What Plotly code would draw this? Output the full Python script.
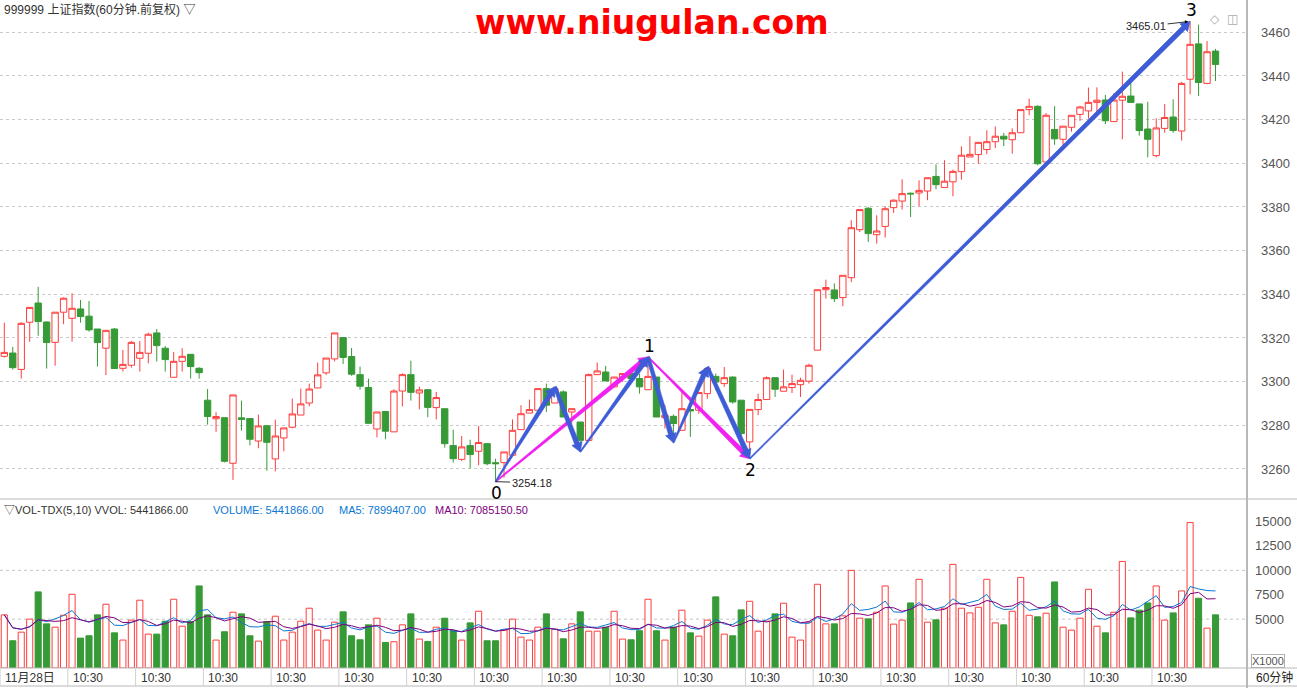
import plotly.graph_objects as go
import pandas as pd
import numpy as np

# ---------------- data ----------------
title_text = "999999 上证指数(60分钟.前复权) ▽"
watermark = "www.niugulan.com"
x_labels = ["11月28日"] + ["10:30"] * 17
label_step = 8

open_ = [3311.6, 3313.1, 3305.6, 3327.2, 3336.0, 3327.3, 3318.0, 3331.8, 3329.0, 3333.3,
         3330.0, 3324.1, 3315.3, 3324.1, 3306.1, 3307.5, 3310.7, 3313.0, 3322.3, 3315.3,
         3302.0, 3309.3, 3312.5, 3306.1, 3291.5, 3283.0, 3283.5, 3262.6, 3283.4, 3283.1,
         3272.8, 3279.8, 3264.6, 3274.2, 3279.1, 3284.7, 3290.2, 3297.1, 3304.0, 3310.4,
         3320.2, 3311.5, 3303.2, 3297.3, 3278.3, 3286.3, 3277.0, 3295.7, 3303.2, 3294.8,
         3296.3, 3288.1, 3287.6, 3270.7, 3264.4, 3270.7, 3268.1, 3271.6, 3262.9, 3262.9,
         3266.3, 3278.0, 3285.6, 3286.9, 3296.8, 3290.2, 3295.3, 3286.1, 3281.5, 3273.1,
         3303.2, 3304.4, 3297.6, 3302.1, 3303.7, 3301.4, 3296.3, 3302.1, 3283.5, 3284.1,
         3277.7, 3287.2, 3286.9, 3294.5, 3302.4, 3299.1, 3302.1, 3291.5, 3272.4, 3287.2,
         3291.8, 3301.8, 3295.6, 3297.3, 3298.6, 3300.2, 3314.4, 3342.1, 3342.0, 3338.5,
         3347.6, 3369.6, 3379.4, 3367.3, 3371.1, 3379.7, 3382.7, 3386.3, 3386.4, 3387.3,
         3394.0, 3388.9, 3391.5, 3396.2, 3402.9, 3404.0, 3406.3, 3409.9, 3412.4, 3410.8,
         3414.0, 3424.6, 3426.1, 3400.6, 3415.5, 3411.0, 3416.5, 3422.4, 3424.0, 3427.9,
         3429.0, 3419.1, 3428.9, 3430.8, 3427.2, 3415.7, 3403.5, 3416.0, 3421.2, 3414.8,
         3438.5, 3454.7, 3436.6, 3451.4]
high = [3327.0, 3315.9, 3327.2, 3334.0, 3343.4, 3327.6, 3331.8, 3338.6, 3340.5, 3337.4,
        3336.9, 3324.1, 3323.5, 3324.6, 3314.5, 3318.6, 3318.6, 3322.4, 3324.1, 3316.3,
        3313.6, 3315.3, 3312.5, 3306.6, 3296.6, 3286.0, 3283.5, 3293.9, 3291.3, 3283.1,
        3284.9, 3279.8, 3282.6, 3278.8, 3292.2, 3296.8, 3299.1, 3308.7, 3310.8, 3322.3,
        3320.2, 3315.4, 3306.9, 3301.4, 3286.1, 3286.3, 3296.5, 3303.8, 3309.6, 3297.7,
        3296.6, 3295.3, 3287.6, 3278.0, 3275.1, 3273.4, 3279.7, 3271.6, 3264.7, 3267.8,
        3282.7, 3289.2, 3291.8, 3296.8, 3299.1, 3297.6, 3296.0, 3287.6, 3281.5, 3303.7,
        3308.7, 3307.2, 3302.1, 3303.7, 3304.4, 3303.7, 3311.3, 3302.1, 3289.2, 3285.0,
        3295.3, 3293.0, 3295.3, 3306.7, 3303.7, 3306.7, 3302.4, 3291.5, 3287.3, 3294.5,
        3302.4, 3301.8, 3305.5, 3303.2, 3301.8, 3308.2, 3342.1, 3346.7, 3345.0, 3348.7,
        3373.9, 3378.8, 3380.0, 3376.2, 3380.3, 3383.5, 3392.7, 3386.6, 3392.2, 3393.4,
        3399.5, 3401.4, 3397.1, 3407.8, 3412.4, 3409.6, 3415.1, 3416.9, 3413.9, 3416.0,
        3424.6, 3429.6, 3426.6, 3423.0, 3426.2, 3417.0, 3422.0, 3426.3, 3434.7, 3434.8,
        3431.3, 3432.1, 3442.0, 3437.4, 3427.2, 3428.2, 3420.6, 3427.2, 3429.3, 3437.3,
        3465.01, 3463.5, 3456.0, 3452.4]
low = [3311.0, 3305.5, 3301.4, 3318.3, 3321.0, 3306.0, 3307.3, 3326.3, 3318.3, 3327.0,
       3322.9, 3306.9, 3303.0, 3306.0, 3304.6, 3306.4, 3304.6, 3308.4, 3309.2, 3304.6,
       3302.0, 3304.6, 3301.4, 3301.4, 3280.3, 3277.0, 3263.0, 3255.0, 3277.6, 3270.8,
       3269.5, 3259.2, 3258.9, 3268.1, 3278.6, 3284.7, 3288.7, 3297.1, 3303.1, 3309.3,
       3308.1, 3302.7, 3296.3, 3280.9, 3274.5, 3273.6, 3277.0, 3288.7, 3291.3, 3287.3,
       3283.7, 3282.7, 3269.8, 3262.9, 3263.7, 3260.2, 3261.7, 3261.7, 3254.18, 3256.0,
       3266.3, 3278.0, 3285.6, 3286.9, 3286.1, 3290.2, 3283.8, 3280.8, 3267.8, 3273.1,
       3303.2, 3300.3, 3297.6, 3299.8, 3300.0, 3294.5, 3296.3, 3283.8, 3278.5, 3272.0,
       3277.7, 3274.7, 3285.3, 3292.2, 3296.0, 3297.6, 3289.9, 3270.4, 3264.7, 3284.6,
       3291.8, 3293.0, 3295.6, 3294.8, 3293.0, 3299.1, 3314.4, 3338.0, 3336.5, 3334.5,
       3345.6, 3368.5, 3364.0, 3363.2, 3366.0, 3377.3, 3378.8, 3375.4, 3380.3, 3383.1,
       3388.1, 3388.9, 3384.9, 3392.5, 3402.9, 3399.8, 3404.1, 3407.0, 3407.9, 3404.4,
       3414.0, 3422.0, 3399.1, 3399.8, 3408.5, 3407.6, 3414.5, 3419.4, 3420.5, 3422.9,
       3418.0, 3419.1, 3411.0, 3427.9, 3412.7, 3402.7, 3402.7, 3414.0, 3414.0, 3410.4,
       3431.6, 3430.8, 3436.2, 3437.7]
close = [3313.4, 3306.4, 3326.7, 3334.0, 3327.5, 3317.9, 3331.8, 3338.2, 3333.6, 3329.8,
         3323.7, 3317.9, 3323.5, 3306.0, 3307.9, 3318.0, 3313.4, 3321.7, 3316.5, 3310.1,
         3309.3, 3311.6, 3306.9, 3304.1, 3284.0, 3284.0, 3263.5, 3293.9, 3282.7, 3273.6,
         3279.7, 3272.2, 3275.1, 3278.8, 3285.2, 3289.8, 3296.6, 3303.1, 3310.8, 3322.3,
         3311.1, 3303.4, 3297.9, 3280.9, 3286.1, 3277.3, 3295.7, 3303.2, 3295.1, 3296.2,
         3288.2, 3292.7, 3271.6, 3264.7, 3270.1, 3266.6, 3272.1, 3262.4, 3262.4, 3267.8,
         3277.7, 3285.3, 3287.2, 3296.8, 3289.2, 3296.8, 3283.8, 3287.6, 3273.1, 3303.2,
         3304.9, 3300.3, 3302.1, 3303.7, 3301.4, 3297.6, 3302.4, 3283.8, 3284.6, 3280.8,
         3287.6, 3286.6, 3295.0, 3306.0, 3299.8, 3301.8, 3290.7, 3276.2, 3287.3, 3291.8,
         3301.8, 3296.5, 3297.6, 3299.1, 3300.6, 3307.5, 3342.1, 3343.1, 3338.0, 3348.7,
         3370.5, 3378.8, 3367.8, 3369.0, 3379.2, 3383.1, 3386.1, 3386.0, 3387.6, 3393.4,
         3390.2, 3391.8, 3396.3, 3403.7, 3404.1, 3409.6, 3409.9, 3412.4, 3411.1, 3414.0,
         3424.6, 3426.1, 3399.8, 3422.0, 3411.2, 3417.0, 3422.0, 3425.8, 3427.9, 3428.9,
         3419.5, 3429.0, 3430.7, 3427.9, 3415.0, 3411.0, 3416.2, 3421.0, 3415.0, 3436.6,
         3454.5, 3437.0, 3451.1, 3445.3]
volume = [5440, 2790, 3670, 5000, 7790, 4520, 4180, 5400, 7550, 3060,
          3300, 5440, 6530, 3600, 2860, 4900, 6940, 3470, 3470, 4790,
          7040, 4280, 4760, 8400, 5440, 2860, 3710, 5710, 5540, 3300,
          2750, 4760, 5300, 2860, 3670, 4790, 6120, 3880, 2860, 4690,
          5750, 3300, 2890, 4420, 5100, 2620, 2690, 4420, 5540, 2960,
          2720, 4180, 5100, 3840, 2860, 4620, 5810, 2790, 2790, 3880,
          5000, 3160, 2860, 4180, 5540, 3980, 2990, 4520, 5750, 3770,
          3770, 4180, 5810, 2960, 2890, 3810, 7040, 3810, 2860, 4180,
          5920, 3600, 3260, 4900, 7280, 3470, 3300, 5950, 6830, 3770,
          4790, 5540, 6630, 3160, 2860, 4690, 8570, 4520, 4520, 5340,
          10000, 5100, 5030, 5710, 8400, 4490, 4900, 6660, 9080, 4690,
          4930, 6120, 10610, 6120, 5640, 6220, 9080, 4620, 4420, 5810,
          9280, 5400, 5240, 5610, 8810, 4180, 3880, 5100, 8060, 4280,
          3600, 5710, 10910, 5130, 5920, 6660, 8400, 4900, 5640, 7890,
          14890, 7140, 4080, 5441.866]

price_ticks = [3260, 3280, 3300, 3320, 3340, 3360, 3380, 3400, 3420, 3440, 3460]
vol_ticks = [5000, 7500, 10000, 12500, 15000]
vol_grid = [5000, 10000]

blue_pivots = [58, 65, 68, 76, 79, 83, 88, 140]
blue_kinds = ["L", "H", "L", "H", "L", "H", "L", "H"]
magenta_pivots = [58, 76, 88]
magenta_kinds = ["L", "H", "L"]
pivot_names = {58: ("0", "L"), 76: ("1", "H"), 88: ("2", "L"), 140: ("3", "H")}

vol_header_parts = [("▽VOL-TDX(5,10) VVOL: 5441866.00", "#333333", 2),
                    ("VOLUME: 5441866.00", "#0a78d2", 211),
                    ("MA5: 7899407.00", "#0a78d2", 337),
                    ("MA10: 7085150.50", "#800080", 433)]

# ---------------- layout constants ----------------
W, H = 1297, 688
ML, MR, MT, MB = 0, 51, 0, 20
PW, PH = W - ML - MR, H - MT - MB
PRICE_BOTTOM_PX = 498
VOL_TOP_PX = 500
X0, X1 = -0.508, 146.6
PT, PB = 3474.8, 3246.7
VT = 17200

RED = "#ff3c3c"
GREEN = "#369a36"
BLUE_ARROW = "#3d5cd6"
MAGENTA = "#f020f0"
FONT = "Liberation Sans, Arial, Noto Sans CJK SC, sans-serif"

n = len(close)
idx = list(range(n))
up = [c >= o for o, c in zip(open_, close)]


def paper_x(px):
    return (px - ML) / PW


def paper_y(py):
    return (MT + PH - py) / PH


def to_px(i, p):
    return (i - X0) / (X1 - X0) * PW, (PT - p) / (PT - PB) * PRICE_BOTTOM_PX


def to_data(x, y):
    return X0 + x / PW * (X1 - X0), PT - y / PRICE_BOTTOM_PX * (PT - PB)


def pivot_price(i, kind):
    return low[i] if kind == "L" else high[i]


def arrow_poly(i0, p0, i1, p1, w0, w1, hl, hw):
    x0, y0 = to_px(i0, p0)
    x1, y1 = to_px(i1, p1)
    d = np.array([x1 - x0, y1 - y0])
    L = np.hypot(*d)
    d = d / L
    nrm = np.array([-d[1], d[0]])
    s = np.array([x0, y0])
    e = np.array([x1, y1])
    b = e - d * hl
    pts = [s + nrm * w0 / 2, b + nrm * w1 / 2, b + nrm * hw, e,
           b - nrm * hw, b - nrm * w1 / 2, s - nrm * w0 / 2, s + nrm * w0 / 2]
    xs, ys = zip(*[to_data(px, py) for px, py in pts])
    return list(xs), list(ys)


fig = go.Figure()

# candles
fig.add_trace(go.Candlestick(
    x=idx, open=open_, high=high, low=low, close=close,
    increasing=dict(line=dict(color=RED, width=1), fillcolor="white"),
    decreasing=dict(line=dict(color=GREEN, width=1), fillcolor=GREEN),
    whiskerwidth=0, xaxis="x", yaxis="y", showlegend=False, hoverinfo="skip"))


def add_arrow_chain(pivots, kinds, color, down_thick):
    for k in range(len(pivots) - 1):
        a, b = pivots[k], pivots[k + 1]
        pa, pb = pivot_price(a, kinds[k]), pivot_price(b, kinds[k + 1])
        going_down = pb < pa
        w0 = 3.4 if (going_down and down_thick) else 1.2
        xs, ys = arrow_poly(a, pa, b, pb, w0, 4.8, 9, 5.5)
        fig.add_trace(go.Scatter(x=xs, y=ys, mode="lines", fill="toself",
                                 fillcolor=color, line=dict(width=0.6, color=color),
                                 xaxis="x", yaxis="y", showlegend=False, hoverinfo="skip"))


add_arrow_chain(magenta_pivots, magenta_kinds, MAGENTA, False)
add_arrow_chain(blue_pivots, blue_kinds, BLUE_ARROW, True)

# volume
vol_s = pd.Series(volume)
ma5 = vol_s.rolling(5, min_periods=1).mean()
ma10 = vol_s.rolling(10, min_periods=1).mean()
fig.add_trace(go.Bar(
    x=idx, y=volume, width=0.72,
    marker=dict(color=["white" if u else GREEN for u in up],
                line=dict(color=[RED if u else GREEN for u in up], width=1)),
    xaxis="x2", yaxis="y2", showlegend=False, hoverinfo="skip"))
fig.add_trace(go.Scatter(x=idx, y=ma5, mode="lines", line=dict(color="#0a78d2", width=1),
                         xaxis="x2", yaxis="y2", showlegend=False, hoverinfo="skip"))
fig.add_trace(go.Scatter(x=idx, y=ma10, mode="lines", line=dict(color="#800080", width=1),
                         xaxis="x2", yaxis="y2", showlegend=False, hoverinfo="skip"))

shapes = []
annotations = []

# volume grid
for v in vol_grid:
    shapes.append(dict(type="line", xref="paper", x0=0, x1=1, yref="y2", y0=v, y1=v,
                       line=dict(color="#c4c4c4", width=1, dash="dot"), layer="below"))

# separators
gray = "#b8b8b8"
for py in [499, 668, 686]:
    shapes.append(dict(type="line", xref="paper", yref="paper", x0=paper_x(0), x1=paper_x(W),
                       y0=paper_y(py), y1=paper_y(py), line=dict(color=gray, width=1)))
shapes.append(dict(type="line", xref="paper", yref="paper", x0=paper_x(1247), x1=paper_x(1247),
                   y0=paper_y(0), y1=paper_y(H), line=dict(color=gray, width=2)))

# x-axis labels
for k, lab in enumerate(x_labels):
    i = k * label_step
    shapes.append(dict(type="line", xref="x2", yref="paper", x0=i - 0.5, x1=i - 0.5,
                       y0=paper_y(668), y1=paper_y(686), line=dict(color="#d0d0d0", width=1)))
    annotations.append(dict(x=i - 0.5, xref="x2", y=paper_y(677.5), yref="paper", text=lab,
                            showarrow=False, xanchor="left", yanchor="middle", xshift=3,
                            font=dict(family=FONT, size=12, color="#333333")))

annotations.append(dict(x=paper_x(1254), y=paper_y(677.5), xref="paper", yref="paper", text="60分钟",
                        showarrow=False, xanchor="left", yanchor="middle",
                        font=dict(family=FONT, size=12, color="#222222")))
annotations.append(dict(x=paper_x(1251), y=paper_y(661), xref="paper", yref="paper", text="X1000",
                        showarrow=False, xanchor="left", yanchor="middle", borderpad=0,
                        bordercolor="#b0b0b0", borderwidth=1,
                        font=dict(family=FONT, size=11, color="#555555")))

# headers
annotations.append(dict(x=paper_x(2), y=paper_y(10), xref="paper", yref="paper", text=title_text,
                        showarrow=False, xanchor="left", yanchor="middle",
                        font=dict(family=FONT, size=12, color="#333333")))
for txt, col, px in vol_header_parts:
    annotations.append(dict(x=paper_x(px), y=paper_y(510), xref="paper", yref="paper", text=txt,
                            showarrow=False, xanchor="left", yanchor="middle",
                            font=dict(family=FONT, size=11, color=col)))
annotations.append(dict(x=paper_x(652), y=paper_y(1), xref="paper", yref="paper",
                        text="<b>" + watermark + "</b>", showarrow=False,
                        xanchor="center", yanchor="top",
                        font=dict(family="DejaVu Sans, sans-serif", size=33, color="#ff0000")))
annotations.append(dict(x=paper_x(1222), y=paper_y(10), xref="paper", yref="paper", text="◇",
                        showarrow=False, font=dict(family="DejaVu Sans", size=12, color="#aaaaaa")))
annotations.append(dict(x=paper_x(1240), y=paper_y(10), xref="paper", yref="paper", text="◫",
                        showarrow=False, font=dict(family="DejaVu Sans", size=12, color="#aaaaaa")))

# pivot labels
for i, (name, kind) in pivot_names.items():
    p = pivot_price(i, kind)
    annotations.append(dict(x=i, y=p, xref="x", yref="y", text=name, showarrow=False,
                            yshift=-11 if kind == "L" else 11, xshift=1,
                            font=dict(family="DejaVu Sans", size=17, color="black")))

# extreme value labels
annotations.append(dict(x=58, y=low[58], xref="x", yref="y", text=f"{low[58]:.2f}",
                        showarrow=True, arrowhead=0, arrowwidth=0.8, arrowcolor="black",
                        ax=36, ay=1, standoff=0,
                        font=dict(family=FONT, size=11, color="#222222")))
annotations.append(dict(x=140, y=high[140], xref="x", yref="y", text=f"{high[140]:.2f}",
                        showarrow=True, arrowhead=2, arrowsize=0.8, arrowwidth=0.8,
                        arrowcolor="black", ax=-44, ay=5, standoff=2,
                        font=dict(family=FONT, size=11, color="#222222")))

fig.update_layout(
    width=W, height=H, autosize=False,
    margin=dict(l=ML, r=MR, t=MT, b=MB),
    paper_bgcolor="white", plot_bgcolor="white",
    boxgap=0.25, boxgroupgap=0,
    barmode="overlay",
    showlegend=False,
    shapes=shapes, annotations=annotations,
    xaxis=dict(domain=[0, 1], range=[X0, X1], anchor="y", showgrid=False, zeroline=False,
               showticklabels=False, rangeslider=dict(visible=False), fixedrange=True),
    xaxis2=dict(domain=[0, 1], range=[X0, X1], anchor="y2", showgrid=False, zeroline=False,
                showticklabels=False, fixedrange=True),
    yaxis=dict(domain=[paper_y(PRICE_BOTTOM_PX), 1], range=[PB, PT], side="right", anchor="x",
               tickvals=price_ticks, showgrid=True, gridcolor="#c8c8c8", griddash="dot",
               zeroline=False, ticks="", ticklabelstandoff=14, fixedrange=True,
               tickfont=dict(family=FONT, size=13, color="#555555")),
    yaxis2=dict(domain=[0, paper_y(VOL_TOP_PX)], range=[0, VT], side="right", anchor="x2",
                tickvals=vol_ticks, tickformat="d", showgrid=False, zeroline=False, ticks="",
                ticklabelstandoff=8, fixedrange=True,
                tickfont=dict(family=FONT, size=13, color="#555555")),
)

fig.write_html("out.html", config={"displayModeBar": False},
               post_script="document.body.style.margin='0px';")
